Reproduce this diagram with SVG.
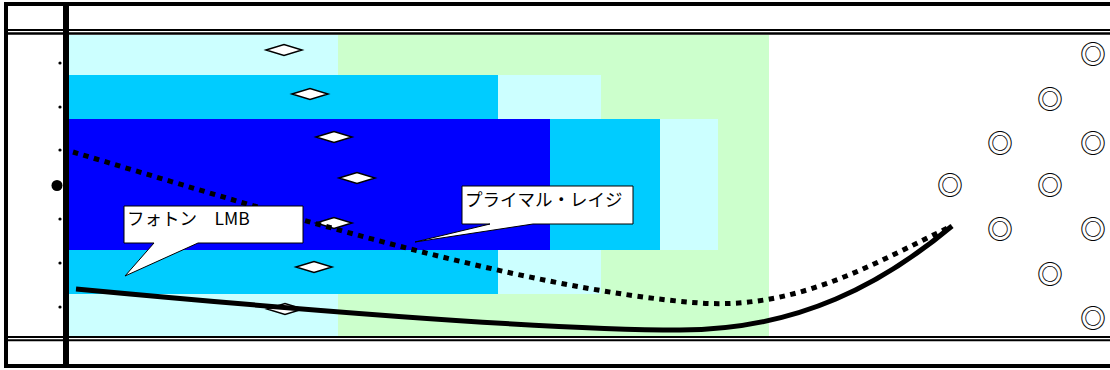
<svg xmlns="http://www.w3.org/2000/svg" width="1110" height="370" viewBox="0 0 1110 370">
<style>
.lc{fill:#CCFFFF}
.gr{fill:#CCFFCC}
.cy{fill:#00CCFF}
.bl{fill:#0000FF}
.dia{fill:#FFFFFF;stroke:#000;stroke-width:1.5}
.dot{fill:#000}
.ring{font-family:"Noto Sans CJK JP","DejaVu Sans",sans-serif;font-size:26px;text-anchor:middle;dominant-baseline:central;fill:#000}
.call{fill:#FFFFFF;stroke:#000;stroke-width:1}
.lbl{font-family:"Noto Sans CJK JP","Noto Sans",sans-serif;font-size:17.5px;fill:#000}
</style>
<rect x="0" y="0" width="1110" height="370" fill="#FFFFFF"/>
<g id="bands">
<rect class="gr" x="338" y="35" width="431" height="301"/>
<rect class="lc" x="69" y="35" width="269" height="40"/>
<rect class="cy" x="69" y="75" width="429" height="44"/>
<rect class="lc" x="498" y="75" width="103" height="44"/>
<rect class="bl" x="69" y="119" width="481" height="131"/>
<rect class="cy" x="550" y="119" width="110" height="131"/>
<rect class="lc" x="660" y="119" width="58" height="131"/>
<rect class="cy" x="69" y="250" width="429" height="44"/>
<rect class="lc" x="498" y="250" width="103" height="44"/>
<rect class="lc" x="69" y="294" width="269" height="42"/>
</g>
<g id="frame" fill="none" stroke="#000">
<rect x="6" y="4" width="1110" height="362" stroke-width="4"/>
<line x1="8" y1="30" x2="1110" y2="30" stroke-width="2"/>
<line x1="8" y1="33.5" x2="1110" y2="33.5" stroke-width="2.3"/>
<line x1="8" y1="337" x2="1110" y2="337" stroke-width="2"/>
<line x1="8" y1="340.2" x2="1110" y2="340.2" stroke-width="2"/>
<line x1="66" y1="4" x2="66" y2="366" stroke-width="6"/>
</g>
<g id="markers">
<circle class="dot" cx="60" cy="63" r="1.6"/>
<circle class="dot" cx="60" cy="107" r="1.6"/>
<circle class="dot" cx="60" cy="150" r="1.6"/>
<circle class="dot" cx="57" cy="185.5" r="5.5"/>
<circle class="dot" cx="60" cy="219" r="1.6"/>
<circle class="dot" cx="60" cy="263" r="1.6"/>
<circle class="dot" cx="60" cy="307" r="1.6"/>
</g>
<g id="diamonds">
<polygon class="dia" points="266,50 284,44.5 302,50 284,55.5"/>
<polygon class="dia" points="292,94 310,88.5 328,94 310,99.5"/>
<polygon class="dia" points="316,137 334,131.5 352,137 334,142.5"/>
<polygon class="dia" points="339,178 357,172.5 375,178 357,183.5"/>
<polygon class="dia" points="316,223 334,217.5 352,223 334,228.5"/>
<polygon class="dia" points="296,267 314,261.5 332,267 314,272.5"/>
<polygon class="dia" points="267,309 285,303.5 303,309 285,314.5"/>
</g>
<g id="rings">
<text class="ring" x="1093" y="52">◎</text>
<text class="ring" x="1050" y="97">◎</text>
<text class="ring" x="1000" y="141">◎</text>
<text class="ring" x="1093" y="141">◎</text>
<text class="ring" x="950" y="183">◎</text>
<text class="ring" x="1050" y="183">◎</text>
<text class="ring" x="1000" y="227">◎</text>
<text class="ring" x="1093" y="227">◎</text>
<text class="ring" x="1050" y="272">◎</text>
<text class="ring" x="1093" y="316">◎</text>
</g>
<g id="connectors" fill="none" stroke="#000">
<path id="primal" d="M73,152 C250,205 520,290 700,303 C800,310 880,260 952,226" stroke-width="5" stroke-dasharray="5.5 5.5"/>
<path id="photon" d="M76,289 C300,310 550,330 680,330 C800,330 885,282 952,226" stroke-width="5"/>
</g>
<g id="callout-photon">
<path class="call" d="M124,206 H303 V243 H198 L125,276 L154,243 H124 Z"/>
<text class="lbl" x="127" y="225">フォトン　LMB</text>
</g>
<g id="callout-primal">
<path class="call" d="M462,186 H633 V224 H533 L415,242 L490,224 H462 Z"/>
<text class="lbl" x="465" y="206">プライマル・レイジ</text>
</g>
</svg>
